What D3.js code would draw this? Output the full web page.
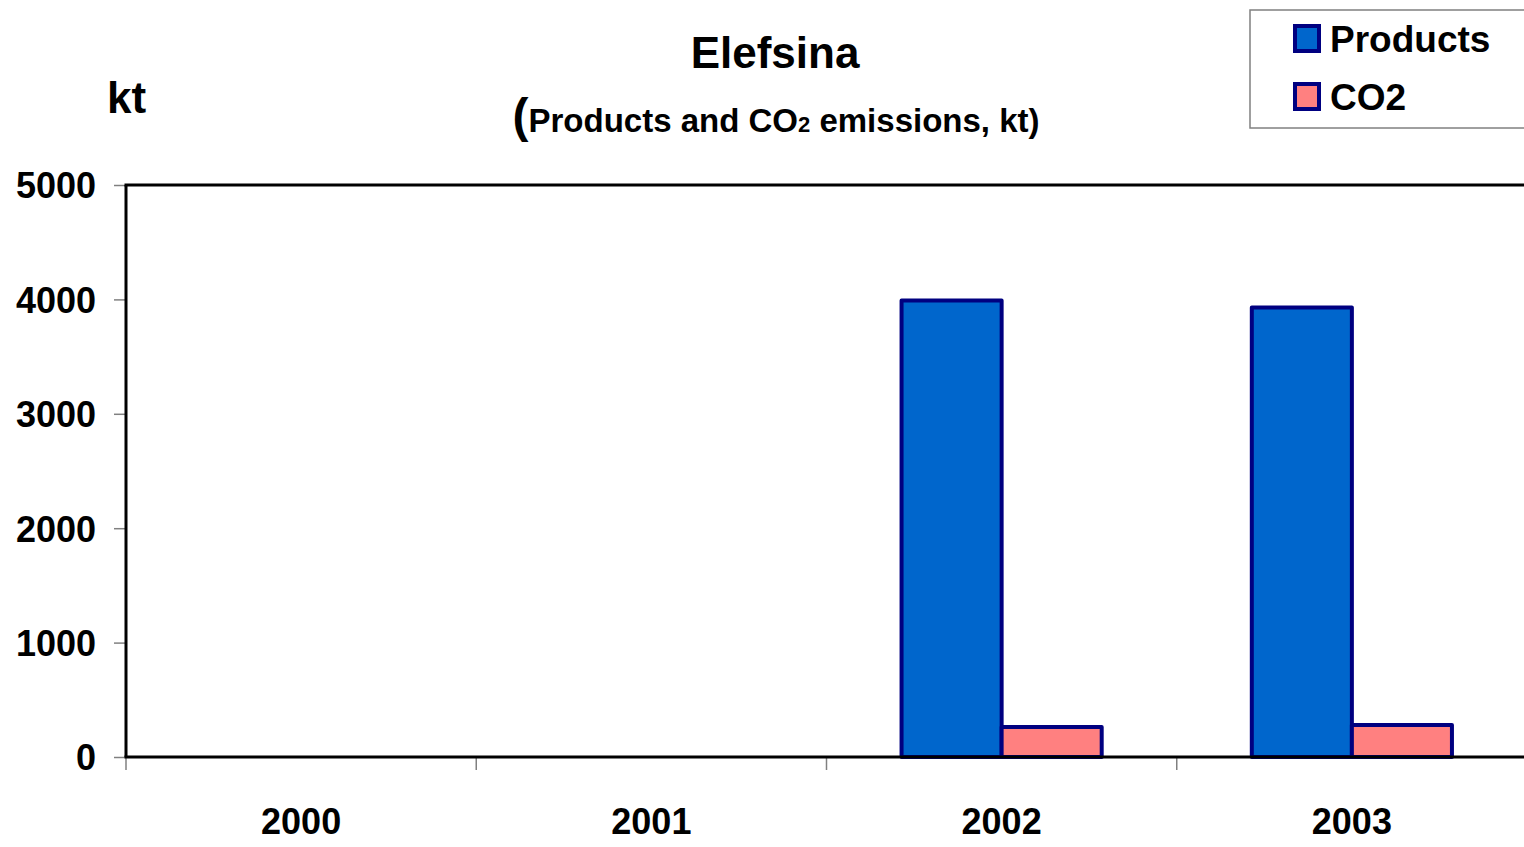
<!DOCTYPE html>
<html>
<head>
<meta charset="utf-8">
<script src="https://cdn.jsdelivr.net/npm/d3@7"></script>
<style>
  html, body { margin: 0; padding: 0; background: #fff; }
  svg { display: block; font-family: "Liberation Sans", Arial, sans-serif; font-weight: bold; }
</style>
</head>
<body>
<svg id="chart" width="1524" height="847"></svg>
<script>
// Annual figures for the Elefsina plant (kt)
const years = ["2000", "2001", "2002", "2003"];
const seriesNames = ["Products", "CO2"];
const productsValues = [null, null, 3990, 3930];
const co2Values = [null, null, 262, 280];
const yTickValues = [0, 1000, 2000, 3000, 4000, 5000];
const seriesColors = ["#0066CC", "#FF8080"];

const svg = d3.select("#chart");
const margin = { left: 126, top: 185, right: -3, bottom: 90 };
const width = 1524, height = 847;
const plotBottom = height - margin.bottom; // 757

const x = d3.scaleBand().domain(years).range([margin.left, width - margin.right]).padding(0);
const x1 = d3.scaleBand().domain(seriesNames).range([0, x.bandwidth()]).paddingInner(0).paddingOuter(0.75);
const y = d3.scaleLinear().domain([0, 5000]).range([plotBottom, margin.top]);

const rows = years.map((yr, i) => ({
  year: yr,
  values: [
    { name: "Products", value: productsValues[i], color: seriesColors[0] },
    { name: "CO2", value: co2Values[i], color: seriesColors[1] }
  ]
}));

// Bars
const groups = svg.append("g").selectAll("g").data(rows).join("g")
  .attr("transform", d => `translate(${x(d.year)},0)`);
groups.selectAll("rect").data(d => d.values.filter(v => v.value != null)).join("rect")
  .attr("x", d => x1(d.name))
  .attr("width", x1.bandwidth())
  .attr("y", d => y(d.value))
  .attr("height", d => y(0) - y(d.value))
  .attr("fill", d => d.color)
  .attr("stroke", "#000080")
  .attr("stroke-width", 4)
  .attr("stroke-linejoin", "round");

// Y axis (grey ticks, black spine)
const yAxis = svg.append("g").attr("transform", `translate(${margin.left},0)`)
  .call(d3.axisLeft(y).tickValues(yTickValues).tickSize(12).tickPadding(18).tickFormat(d3.format("d")));
yAxis.select(".domain").remove();
yAxis.selectAll(".tick line").attr("stroke", "#808080").attr("stroke-width", 1.5);
yAxis.selectAll(".tick text").attr("font-size", 36).attr("font-weight", "bold")
  .attr("font-family", "Liberation Sans, Arial, sans-serif").attr("fill", "#000").attr("dy", "0.36em");

// X axis ticks at band boundaries
const xAxis = svg.append("g").attr("transform", `translate(0,${plotBottom})`)
  .call(d3.axisBottom(x).tickSize(0).tickPadding(51));
xAxis.select(".domain").remove();
xAxis.selectAll(".tick text").attr("font-size", 36).attr("font-weight", "bold")
  .attr("font-family", "Liberation Sans, Arial, sans-serif").attr("fill", "#000");
svg.append("g").selectAll("line").data(years).join("line")
  .attr("x1", d => x(d)).attr("x2", d => x(d))
  .attr("y1", plotBottom).attr("y2", plotBottom + 13)
  .attr("stroke", "#808080").attr("stroke-width", 1.5);

// Plot frame lines
svg.append("line").attr("x1", margin.left).attr("x2", margin.left)
  .attr("y1", margin.top).attr("y2", plotBottom).attr("stroke", "#000").attr("stroke-width", 3);
svg.append("line").attr("x1", margin.left - 1.5).attr("x2", width)
  .attr("y1", margin.top).attr("y2", margin.top).attr("stroke", "#000").attr("stroke-width", 3);
svg.append("line").attr("x1", margin.left - 1.5).attr("x2", width)
  .attr("y1", plotBottom).attr("y2", plotBottom).attr("stroke", "#000").attr("stroke-width", 3);

// Titles
svg.append("text").attr("x", 775).attr("y", 68).attr("text-anchor", "middle")
  .attr("font-size", 44).text("Elefsina");
const sub = svg.append("text").attr("x", 776).attr("y", 132).attr("text-anchor", "middle").attr("font-size", 33);
sub.append("tspan").attr("font-size", 48).text("(");
sub.append("tspan").text("Products and CO");
sub.append("tspan").attr("font-size", 22).text("2");
sub.append("tspan").text(" emissions, kt)");

svg.append("text").attr("x", 107).attr("y", 113).attr("font-size", 44).text("kt");

// Legend
const legend = svg.append("g");
legend.append("rect").attr("x", 1250).attr("y", 10).attr("width", 300).attr("height", 118)
  .attr("fill", "#fff").attr("stroke", "#808080").attr("stroke-width", 1.5);
const items = legend.selectAll("g.item").data(seriesNames).join("g").attr("class", "item")
  .attr("transform", (d, i) => `translate(0,${i * 58})`);
items.append("rect").attr("x", 1295).attr("y", 26).attr("width", 24).attr("height", 25)
  .attr("fill", (d, i) => seriesColors[i]).attr("stroke", "#000080").attr("stroke-width", 4);
items.append("text").attr("x", 1330).attr("y", 52).attr("font-size", 37).text(d => d);
</script>
</body>
</html>
